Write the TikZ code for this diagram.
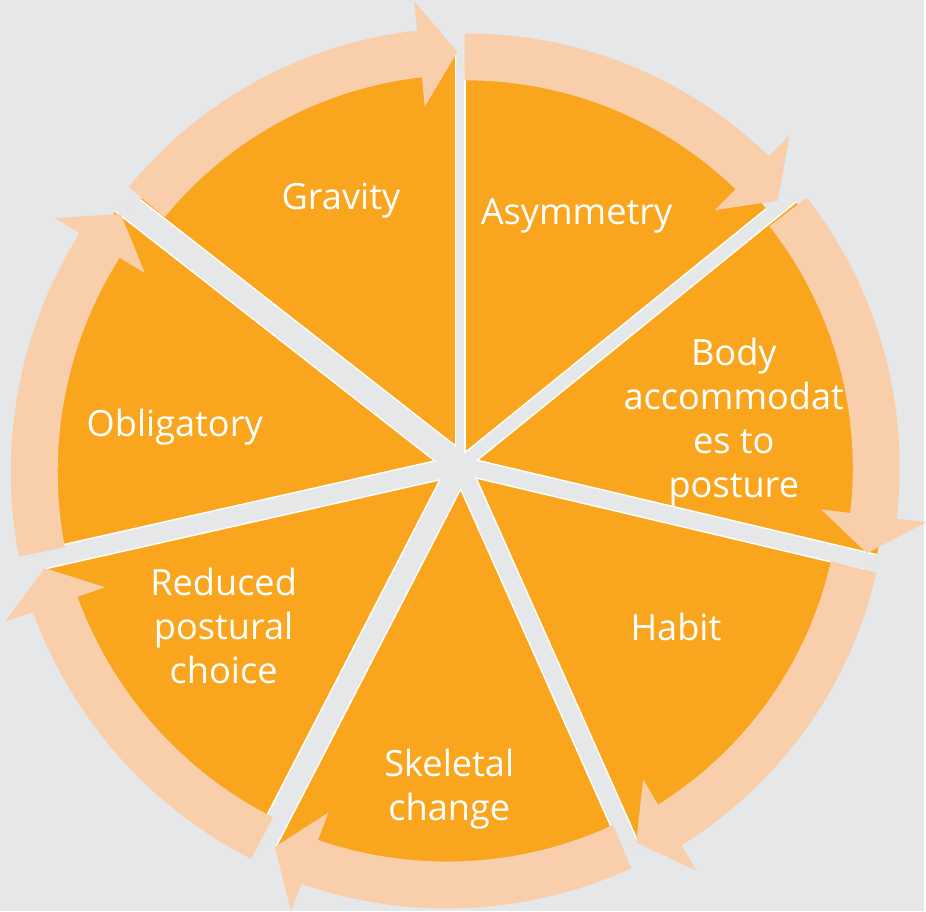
\documentclass[tikz,border=0pt]{standalone}
\usepackage{fontspec}
\setmainfont{Open Sans}
\usepackage{tikz}
\usetikzlibrary{positioning}
\definecolor{bggray}{RGB}{230,231,233}
\definecolor{segorange}{RGB}{249,166,30}
\definecolor{arrowpeach}{RGB}{249,206,170}
\tikzstyle{segment} = [fill=segorange]
\tikzstyle{gapedge} = [draw=white]
\tikzstyle{gapfill} = [draw=bggray]
\tikzstyle{segtext} = [text=white, align=center, inner sep=0pt, font=\fontsize{20.6pt}{25pt}\selectfont]

% curved arrow: start angle, tip angle, start radius, tip radius
\newcommand{\cyclearrow}[4]{%
  \pgfmathsetmacro{\hb}{#2+38/#4*180/pi}
  \fill[arrowpeach] plot[domain=#1:\hb, samples=40] (\x:{#3+(#4-(#3))*(\x-(#1))/(\hb-(#1))-23.5})
    -- (\hb:{#4-53}) -- (#2:#4) -- (\hb:{#4+53})
    -- plot[domain=\hb:#1, samples=40] (\x:{#3+(#4-(#3))*(\x-(#1))/(\hb-(#1))+23.5}) -- cycle;
}

\begin{document}
\begin{tikzpicture}[x=0.02cm, y=0.02cm]
    % Background
    \fill[bggray] (0,0) rectangle (926,912);

    \begin{scope}[shift={(461,446)}]
        % Segments
        \foreach \a/\b/\r in {90/142/416, 39/90/400, -13.3/39/427, -66/-13.3/418, -117.3/-66/425, -167.3/-117.3/430, 142/192.7/429}
            \fill[segment] (0,0) -- (\a:\r) arc[start angle=\a, end angle=\b, radius=\r] -- cycle;

        % Gaps between segments
        \begin{scope}
            \clip \foreach \a/\b/\r in {90/142/416, 39/90/400, -13.3/39/427, -66/-13.3/418, -117.3/-66/425, -167.3/-117.3/430, 142/192.7/429}
                {(0,0) -- (\a:\r) arc[start angle=\a, end angle=\b, radius=\r] -- cycle};
            \foreach \g/\w in {90/8, 39/12, -13.3/16, -66/17, -117.3/21, -167.3/18, 142/23}
                \draw[gapedge, line width={(\w+3)*0.569pt}] (0,0) -- (\g:470);
            \foreach \g/\w in {90/8, 39/12, -13.3/16, -66/17, -117.3/21, -167.3/18, 142/23}
                \draw[gapfill, line width={\w*0.569pt}] (0,0) -- (\g:470);
        \end{scope}

        % Arrows round the cycle
        \foreach \s/\t/\rs/\rt in {140/90.4/410/414, 89.4/39.8/409/414, 37.7/-12.2/415/417, -14.5/-65/407/417, -67/-115.9/415/425, -118/-166.1/423/429, 191.7/143.5/428/423}
            \cyclearrow{\s}{\t}{\rs}{\rt};
    \end{scope}

    % Labels
    \node[segtext, anchor=base] (gravity) at (341.5,702) {Gravity};
    \node[segtext, anchor=base] (asymmetry) at (577.5,687) {Asymmetry};
    \node[segtext] (body) at (735,489) {Body\\accommodat\\es to\\posture};
    \node[segtext, anchor=base] (habit) at (677,270) {Habit};
    \node[segtext] (skeletal) at (450,122) {Skeletal\\change};
    \node[segtext] (reduced) at (224,285) {Reduced\\postural\\choice};
    \node[segtext, anchor=base] (obligatory) at (175,475) {Obligatory};
\end{tikzpicture}
\end{document}
